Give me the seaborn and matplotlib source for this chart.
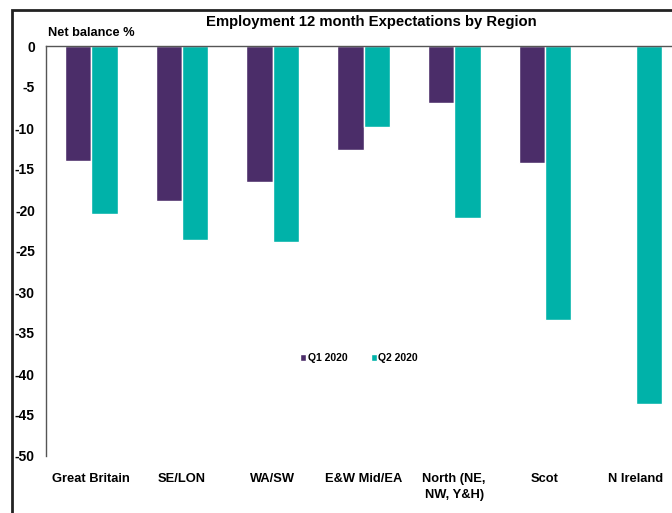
import pandas as pd
import matplotlib.pyplot as plt
import seaborn as sns
from matplotlib.patches import Rectangle

regions = ["Great Britain", "SE/LON", "WA/SW", "E&W Mid/EA", "North (NE,\nNW, Y&H)", "Scot", "N Ireland"]
q1_2020 = [-14.0, -18.9, -16.6, -12.7, -7.0, -14.3, 0.0]
q2_2020 = [-20.5, -23.7, -23.9, -9.9, -21.0, -33.4, -43.7]

df = pd.DataFrame({
    "Region": regions * 2,
    "Quarter": ["Q1 2020"] * len(regions) + ["Q2 2020"] * len(regions),
    "Value": q1_2020 + q2_2020,
})

sns.set_theme(style="white")
plt.rcParams['font.family'] = ['Liberation Sans', 'DejaVu Sans']
plt.rcParams['font.weight'] = 'bold'
plt.rcParams['text.color'] = 'black'
plt.rcParams['xtick.color'] = 'black'
plt.rcParams['ytick.color'] = 'black'

fig = plt.figure(figsize=(6.72, 5.13), dpi=100)
ax = fig.add_axes([46 / 672, 1 - 456 / 513, 635 / 672, 410 / 513])

palette = {"Q1 2020": "#4B2D69", "Q2 2020": "#00B2A9"}
sns.barplot(data=df, x="Region", y="Value", hue="Quarter", palette=palette,
            width=0.58, saturation=1, ax=ax)

ax.set_ylim(-50, 0)
ax.set_xlim(-0.5, 6.5)
ax.set_yticks(range(-50, 1, 5))
ax.set_yticklabels([str(v) for v in range(-50, 1, 5)], fontsize=10, fontweight='bold')
ax.tick_params(axis='y', length=0, pad=8, labelcolor='black')
ax.tick_params(axis='x', length=0, pad=12, labelsize=9.3, labelcolor='black')
for lbl in ax.get_xticklabels():
    lbl.set_fontweight('bold')
    lbl.set_linespacing(1.5)
ax.set_xlabel("")
ax.set_ylabel("")

for side in ["right", "bottom"]:
    ax.spines[side].set_visible(False)
ax.spines["left"].set_color("#555555")
ax.spines["top"].set_color("#555555")
ax.spines["left"].set_linewidth(1.0)
ax.spines["top"].set_linewidth(1.0)

leg = ax.legend(loc="center", bbox_to_anchor=(0.493, 0.239), ncol=2, frameon=False,
                fontsize=7.5, handlelength=0.6, handleheight=0.6, handletextpad=0.15,
                columnspacing=2.2)
for t in leg.get_texts():
    t.set_fontweight('bold')
    t.set_color('black')

fig.text(371 / 672, 1 - 22 / 513, "Employment 12 month Expectations by Region",
         ha="center", va="center", fontsize=10.7, fontweight="bold", color="black")
fig.text(48 / 672, 1 - 33 / 513, "Net balance %", ha="left", va="center",
         fontsize=9.2, fontweight="bold", color="black")

fig.patches.append(Rectangle((12 / 672, -0.05), 1.0, 1 - 10 / 513 + 0.05,
                             transform=fig.transFigure, fill=False,
                             edgecolor="#222222", linewidth=2))

fig.savefig("out.png", dpi=100)
